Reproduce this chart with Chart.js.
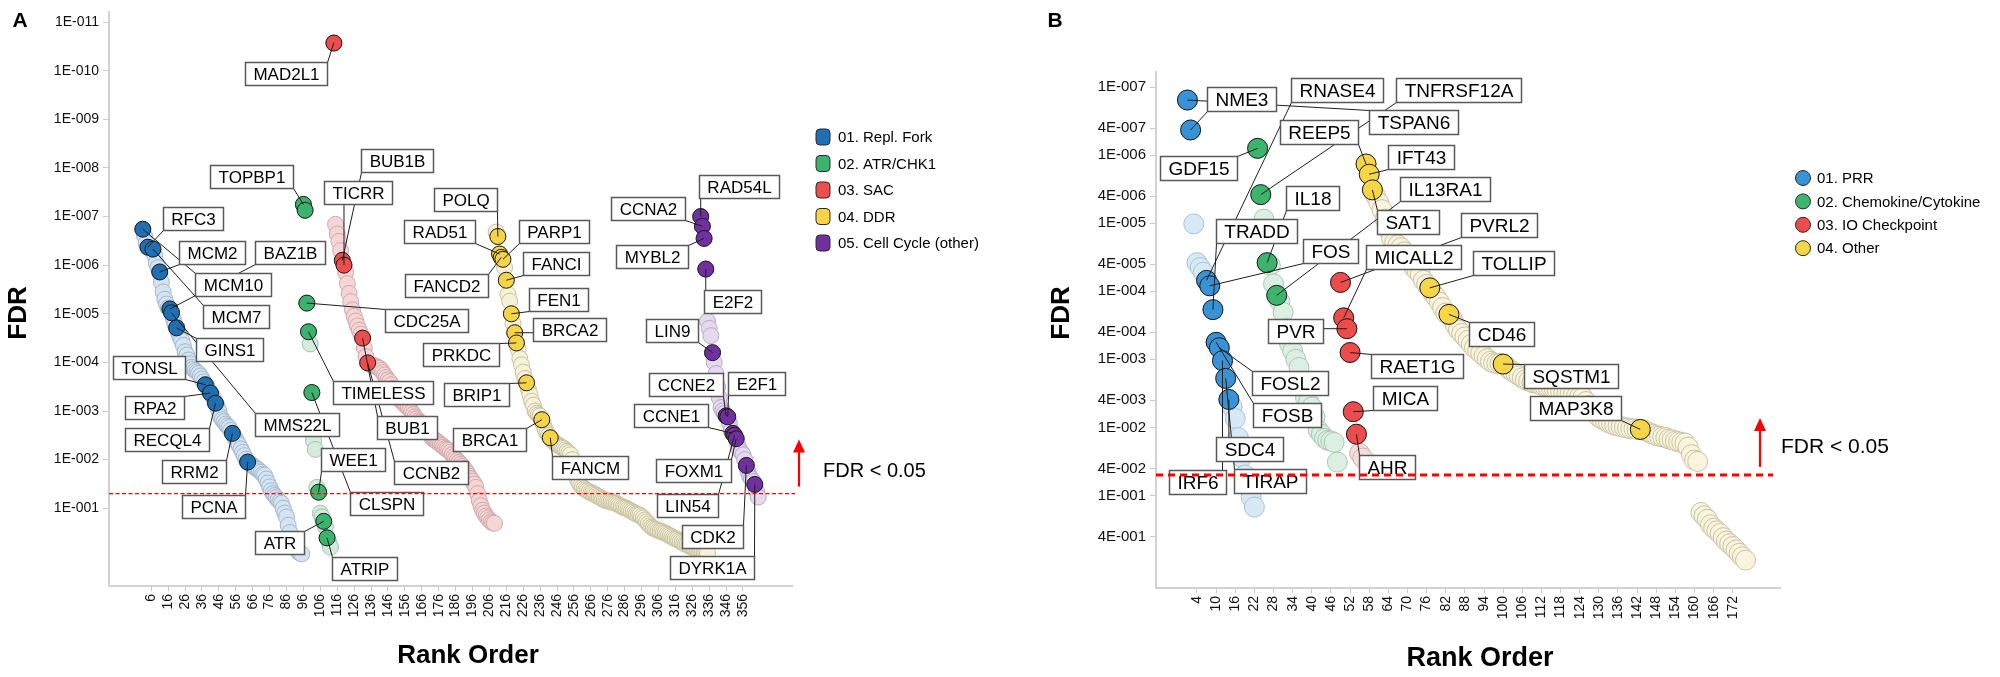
<!DOCTYPE html>
<html>
<head>
<meta charset="utf-8">
<script src="https://cdn.jsdelivr.net/npm/chart.js@4.4.0/dist/chart.umd.min.js"></script>
<style>
  html, body { margin: 0; padding: 0; background: #fff; }
  #wrapA { position: absolute; left: 0; top: 0; width: 1040px; height: 677px; }
  #wrapB { position: absolute; left: 1040px; top: 0; width: 960px; height: 677px; }
</style>
</head>
<body>
<div id="wrapA"><canvas id="chartA" width="1040" height="677"></canvas></div>
<div id="wrapB"><canvas id="chartB" width="960" height="677"></canvas></div>
<script>

// ---------- Panel A : log10(FDR) per rank, one list per gene set ----------
const aReplForkStart = 1;
const aReplForkLogFdr = [
  -6.74, -6.6, -6.45, -6.37, -6.35, -6.34, -6.33, -6.2, -6.04, -5.95,
  -5.86, -5.65, -5.45, -5.3, -5.2, -5.12, -5.1, -5.02, -4.9, -4.78,
  -4.71, -4.62, -4.52, -4.45, -4.35, -4.22, -4.15, -4.05, -3.97, -3.9,
  -3.86, -3.83, -3.8, -3.77, -3.72, -3.66, -3.6, -3.54, -3.5, -3.43,
  -3.37, -3.32, -3.24, -3.16, -3.1, -3.0, -2.88, -2.82, -2.78, -2.73,
  -2.69, -2.66, -2.6, -2.54, -2.47, -2.42, -2.35, -2.29, -2.22, -2.15,
  -2.08, -2.01, -1.95, -1.92, -1.9, -1.88, -1.85, -1.82, -1.8, -1.77,
  -1.74, -1.7, -1.68, -1.6, -1.52, -1.44, -1.36, -1.3, -1.26, -1.22,
  -1.17, -1.13, -1.1, -1.0, -0.9, -0.82, -0.65, -0.5, -0.35, -0.25,
  -0.2, -0.15, -0.1, -0.08, -0.06
];
const aReplForkGenes = { 1: 'MCM10', 4: 'RFC3', 7: 'MCM7', 11: 'MCM2', 17: 'BAZ1B', 18: 'MMS22L', 21: 'GINS1', 38: 'TONSL', 41: 'RPA2', 44: 'RECQL4', 54: 'RRM2', 63: 'PCNA' };

const aAtrStart = 96;
const aAtrLogFdr = [-7.25, -7.13, -5.22, -4.63, -4.38, -3.38, -2.39, -2.21, -1.43, -1.33, -0.9, -0.82, -0.73, -0.62, -0.39, -0.3, -0.2];
const aAtrGenes = { 96: 'TOPBP1', 97: '', 98: 'CDC25A', 99: 'TIMELESS', 101: 'CLSPN', 105: 'WEE1', 108: 'ATR', 110: 'ATRIP' };

const aSacStart = 114;
const aSacLogFdr = [
  -10.57, -6.84, -6.64, -6.49, -6.3, -6.1, -6.0, -5.85, -5.62, -5.42,
  -5.25, -5.08, -4.95, -4.85, -4.75, -4.66, -4.58, -4.5, -4.3, -4.12,
  -3.99, -3.97, -3.95, -3.94, -3.93, -3.92, -3.9, -3.88, -3.84, -3.79,
  -3.74, -3.69, -3.64, -3.6, -3.54, -3.47, -3.4, -3.34, -3.28, -3.24,
  -3.2, -3.17, -3.13, -3.1, -3.07, -3.03, -2.98, -2.93, -2.88, -2.84,
  -2.8, -2.77, -2.74, -2.71, -2.67, -2.61, -2.55, -2.5, -2.45, -2.42,
  -2.4, -2.37, -2.35, -2.32, -2.29, -2.26, -2.23, -2.21, -2.19, -2.15,
  -2.1, -2.06, -2.02, -1.98, -1.94, -1.9, -1.86, -1.82, -1.78, -1.72,
  -1.66, -1.61, -1.56, -1.5, -1.43, -1.3, -1.16, -1.05, -0.96, -0.9,
  -0.84, -0.8, -0.76, -0.72, -0.7, -0.69
];
const aSacGenes = { 114: 'MAD2L1', 119: 'BUB1B', 120: 'TICRR', 131: 'BUB1', 134: 'CCNB2' };

const aDdrStart = 210;
const aDdrLogFdr = [
  -6.68, -6.59, -6.23, -6.16, -6.12, -5.95, -5.69, -5.4, -5.26, -5.0,
  -4.8, -4.61, -4.4, -4.27, -4.08, -3.95, -3.8, -3.67, -3.58, -3.45,
  -3.34, -3.2, -3.12, -3.0, -2.95, -2.92, -2.9, -2.82, -2.72, -2.62,
  -2.55, -2.5, -2.45, -2.4, -2.37, -2.34, -2.31, -2.29, -2.27, -2.25,
  -2.23, -2.2, -2.17, -2.14, -2.1, -2.0, -1.85, -1.68, -1.6, -1.53,
  -1.47, -1.43, -1.4, -1.38, -1.36, -1.34, -1.32, -1.31, -1.29, -1.27,
  -1.25, -1.23, -1.21, -1.19, -1.17, -1.16, -1.15, -1.14, -1.13, -1.12,
  -1.11, -1.1, -1.08, -1.06, -1.04, -1.02, -1.01, -1.0, -0.98, -0.96,
  -0.94, -0.92, -0.9, -0.88, -0.87, -0.86, -0.83, -0.8, -0.76, -0.72,
  -0.68, -0.64, -0.61, -0.59, -0.57, -0.56, -0.54, -0.53, -0.52, -0.5,
  -0.49, -0.47, -0.45, -0.43, -0.41, -0.39, -0.37, -0.36, -0.34, -0.32,
  -0.3, -0.28, -0.26, -0.25, -0.23, -0.21, -0.2, -0.18, -0.16, -0.14,
  -0.13, -0.12, -0.11, -0.1, -0.09, -0.08
];
const aDdrGenes = { 211: 'POLQ', 212: 'RAD51', 213: 'FANCD2', 214: 'PARP1', 216: 'FANCI', 219: 'FEN1', 221: 'BRCA2', 222: 'PRKDC', 228: 'BRIP1', 237: 'BRCA1', 242: 'FANCM' };

const aCellCycleStart = 331;
const aCellCycleLogFdr = [
  -7.0, -6.8, -6.55, -5.92, -4.85, -4.7, -4.55, -4.2, -4.0, -3.77,
  -3.5, -3.27, -3.07, -3.0, -2.95, -2.9, -2.88, -2.75, -2.6, -2.54,
  -2.5, -2.43, -2.3, -2.2, -2.15, -2.1, -2.0, -1.88, -1.75, -1.65,
  -1.6, -1.55, -1.49, -1.35, -1.23
];
const aCellCycleGenes = { 331: 'RAD54L', 332: 'CCNA2', 333: 'MYBL2', 334: 'E2F2', 338: 'LIN9', 346: 'CCNE2', 347: 'E2F1', 350: 'CCNE1', 351: 'LIN54', 352: 'FOXM1', 358: 'CDK2', 363: 'DYRK1A' };

const aSetNames = ['01. Repl. Fork', '02. ATR/CHK1', '03. SAC', '04. DDR', '05. Cell Cycle (other)'];
const aRankTicks = [6, 16, 26, 36, 46, 56, 66, 76, 86, 96, 106, 116, 126, 136, 146, 156, 166, 176, 186, 196, 206, 216, 226, 236, 246, 256, 266, 276, 286, 296, 306, 316, 326, 336, 346, 356];
const aFdrTicks = [1e-11, 1e-10, 1e-9, 1e-8, 1e-7, 1e-6, 1e-5, 1e-4, 1e-3, 1e-2, 1e-1];

// ---------- Panel B ----------
const bPrrStart = 1;
const bPrrLogFdr = [-6.81, -6.37, -4.99, -4.42, -4.35, -4.28, -4.16, -4.08, -3.73, -3.25, -3.17, -2.98, -2.72, -2.41, -2.3, -2.13, -1.85, -1.56, -1.3, -1.12, -0.97, -0.83];
const bPrrGenes = { 1: 'TSPAN6', 2: 'NME3', 7: 'RNASE4', 8: 'FOS', 9: 'TRADD', 10: 'FOSB', 11: 'FOSL2', 12: 'IRF6', 13: 'TIRAP', 14: 'SDC4' };

const bChemoStart = 23;
const bChemoLogFdr = [-6.1, -5.42, -5.06, -4.42, -4.38, -4.11, -3.94, -3.85, -3.69, -3.45, -3.23, -3.12, -3.0, -2.88, -2.6, -2.44, -2.38, -2.3, -2.15, -1.96, -1.9, -1.84, -1.81, -1.8, -1.78, -1.49];
const bChemoGenes = { 23: 'GDF15', 24: 'TNFRSF12A', 26: 'IL18', 29: 'IL13RA1' };

const bIoStart = 49;
const bIoLogFdr = [-4.13, -3.61, -3.45, -3.1, -2.23, -1.9, -1.62, -1.55];
const bIoGenes = { 49: 'PVRL2', 50: 'MICALL2', 51: 'PVR', 52: 'RAET1G', 53: 'MICA', 54: 'AHR' };

const bOtherStart = 57;
const bOtherLogFdr = [
  -5.87, -5.72, -5.49, -5.4, -5.3, -5.2, -5.06, -4.9, -4.78, -4.72,
  -4.68, -4.64, -4.58, -4.5, -4.42, -4.35, -4.3, -4.25, -4.16, -4.1,
  -4.05, -3.97, -3.91, -3.84, -3.76, -3.68, -3.66, -3.6, -3.5, -3.43,
  -3.38, -3.33, -3.28, -3.22, -3.17, -3.13, -3.09, -3.05, -3.01, -2.97,
  -2.95, -2.94, -2.94, -2.93, -2.9, -2.85, -2.82, -2.79, -2.76, -2.73,
  -2.7, -2.68, -2.66, -2.65, -2.64, -2.62, -2.61, -2.6, -2.59, -2.57,
  -2.55, -2.53, -2.51, -2.5, -2.49, -2.48, -2.46, -2.45, -2.44, -2.38,
  -2.32, -2.26, -2.2, -2.15, -2.12, -2.1, -2.07, -2.05, -2.03, -2.02,
  -2.01, -2.0, -1.99, -1.98, -1.98, -1.97, -1.97, -1.96, -1.94, -1.92,
  -1.9, -1.88, -1.87, -1.86, -1.85, -1.83, -1.82, -1.8, -1.79, -1.78,
  -1.77, -1.71, -1.6, -1.52, -1.5, -0.75, -0.7, -0.65, -0.57, -0.52,
  -0.48, -0.44, -0.38, -0.33, -0.29, -0.25, -0.2, -0.15, -0.1, -0.05
];
const bOtherGenes = { 57: 'REEP5', 58: 'IFT43', 59: 'SAT1', 77: 'TOLLIP', 83: 'CD46', 100: 'SQSTM1', 143: 'MAP3K8' };

const bSetNames = ['01. PRR', '02. Chemokine/Cytokine', '03. IO Checkpoint', '04. Other'];
const bRankTicks = [4, 10, 16, 22, 28, 34, 40, 46, 52, 58, 64, 70, 76, 82, 88, 94, 100, 106, 112, 118, 124, 130, 136, 142, 148, 154, 160, 166, 172];
const bFdrTicks = [1e-7, 4e-7, 1e-6, 4e-6, 1e-5, 4e-5, 1e-4, 4e-4, 1e-3, 4e-3, 1e-2, 4e-2, 1e-1, 4e-1];

const fdrCutoff = 0.05;

// ---------- Styles / layout ----------
const FONT = '"Liberation Sans", Arial, Helvetica, sans-serif';
Chart.defaults.font.family = FONT;

const aColors = [
  { dark: '#1f6fb2', pale: '#d4e4f2', edge: '#a3b8ca' },
  { dark: '#3bb36c', pale: '#d5ecdd', edge: '#a3c3ad' },
  { dark: '#ee4d4d', pale: '#f6d5d6', edge: '#cfa8a9' },
  { dark: '#f5d547', pale: '#f6f2da', edge: '#c6c09f' },
  { dark: '#70309f', pale: '#e4d9ef', edge: '#b8a9ca' }
];
const bColors = [
  { dark: '#3893d6', pale: '#d8e9f6', edge: '#a6c1d6' },
  { dark: '#3cb46d', pale: '#dcefe3', edge: '#a8c7b2' },
  { dark: '#ed4c4c', pale: '#f7dcdc', edge: '#d0aeae' },
  { dark: '#f6d548', pale: '#f8f4dd', edge: '#c9c3a4' }
];

// callout box centre relative to its point, in px
const aCalloutOffsets = {
  MCM10: [90, 55], RFC3: [45, -29], MCM7: [83, 67], MCM2: [52, -19], BAZ1B: [120, -56],
  MMS22L: [125, 112], GINS1: [53, 22], TONSL: [-56, -17], RPA2: [-56, 14], RECQL4: [-49, 36],
  RRM2: [-38, 38], PCNA: [-34, 44],
  TOPBP1: [-52, -28], CDC25A: [120, 17], TIMELESS: [75, 61], CLSPN: [75, 111], WEE1: [34, -33],
  ATR: [-44, 21], ATRIP: [37, 31],
  MAD2L1: [-48, 30], BUB1B: [55, -100], TICRR: [14, -73], BUB1: [44, 89], CCNB2: [63, 110],
  POLQ: [-32, -37], RAD51: [-60, -22], FANCD2: [-55, 28], PARP1: [51, -28], FANCI: [50, -17],
  FEN1: [47, -14], BRCA2: [55, -3], PRKDC: [-55, 12], BRIP1: [-50, 12], BRCA1: [-52, 20], FANCM: [40, 30],
  RAD54L: [38, -30], CCNA2: [-54, -18], MYBL2: [-52, 18], E2F2: [27, 32], LIN9: [-41, -22],
  CCNE2: [-40, -31], E2F1: [29, -33], CCNE1: [-62, -18], LIN54: [-47, 70], FOXM1: [-43, 32],
  CDK2: [-34, 71], DYRK1A: [-43, 83]
};
const bCalloutOffsets = {
  TSPAN6: [226, 22], NME3: [51, -31], RNASE4: [130, -190], FOS: [121, -35], TRADD: [44, -79],
  FOSB: [71, 73], FOSL2: [71, 35], IRF6: [-25, 121], TIRAP: [44, 103], SDC4: [21, 50],
  GDF15: [-59, 20], TNFRSF12A: [198, -105], IL18: [45, -65], IL13RA1: [168, -106],
  PVRL2: [158, -57], MICALL2: [70, -61], PVR: [-51, 2], RAET1G: [67, 13], MICA: [52, -14], AHR: [31, 33],
  REEP5: [-47, -32], IFT43: [52, -17], SAT1: [36, 32], TOLLIP: [84, -25], CD46: [53, 20],
  SQSTM1: [68, 12], MAP3K8: [-65, -21]
};

// ---------- Helpers ----------
const toPoints = function (start, logFdr, genes) {
  return logFdr.map((v, i) => ({ x: start + i, y: Math.pow(10, v), gene: genes[start + i] }));
};

const buildDatasets = function (sets, colors, radius) {
  const datasets = [];
  sets.forEach((set, i) => {
    const pts = toPoints(set[0], set[1], set[2]);
    // Pale background points
    datasets.push({
      data: pts, order: 1, clip: false,
      pointRadius: radius, pointHoverRadius: radius, pointBorderWidth: 1,
      pointBackgroundColor: colors[i].pale, pointBorderColor: colors[i].edge
    });
    // Highlighted genes
    datasets.push({
      data: pts.filter(p => p.gene !== undefined), order: 0, clip: false, isDark: true,
      pointRadius: radius, pointHoverRadius: radius, pointBorderWidth: 1,
      pointBackgroundColor: colors[i].dark, pointBorderColor: '#1a1a1a'
    });
  });
  return datasets;
};

const fmtFdr = function (v) {
  const parts = Number(v).toExponential(0).split('e');
  return parts[0] + 'E-' + String(Math.abs(parseInt(parts[1], 10))).padStart(3, '0');
};

const axisX = function (min, max, ticks, height, size) {
  return {
    type: 'linear', min: min, max: max,
    afterBuildTicks: s => { s.ticks = ticks.map(v => ({ value: v })); },
    afterFit: s => { s.height = height; },
    ticks: { autoSkip: false, minRotation: 90, maxRotation: 90, padding: 3, color: '#111', font: { size: size }, callback: v => String(v) },
    grid: { drawOnChartArea: false, drawTicks: true, tickLength: 5, color: '#c8c8c8' },
    border: { display: true, color: '#d2d2d2', width: 2 }
  };
};

const axisY = function (min, max, ticks, width, size) {
  return {
    type: 'logarithmic', reverse: true, min: min, max: max,
    afterBuildTicks: s => { s.ticks = ticks.map(v => ({ value: v })); },
    afterFit: s => { s.width = width; },
    ticks: { autoSkip: false, padding: 4, color: '#111', font: { size: size }, callback: v => fmtFdr(v) },
    grid: { drawOnChartArea: false, drawTicks: true, tickLength: 6, color: '#c8c8c8' },
    border: { display: true, color: '#d2d2d2', width: 2 }
  };
};

// Callouts, cutoff line, legend and titles
const makeOverlay = function (cfg) {
  return {
    id: 'overlay' + cfg.key,
    afterDatasetsDraw(chart) {
      const ctx = chart.ctx;
      const boxes = [];
      chart.data.datasets.forEach((ds, di) => {
        if (!ds.isDark) return;
        const meta = chart.getDatasetMeta(di);
        ds.data.forEach((p, i) => {
          const off = cfg.offsets[p.gene];
          if (!p.gene || !off) return;
          const el = meta.data[i];
          boxes.push({ text: p.gene, px: el.x, py: el.y, cx: el.x + off[0], cy: el.y + off[1] });
        });
      });
      ctx.save();
      ctx.font = cfg.boxFont;
      boxes.forEach(b => {
        b.w = Math.round(ctx.measureText(b.text).width + cfg.boxPadX * 2);
        b.h = cfg.boxH;
        b.l = Math.round(b.cx - b.w / 2) + 0.5;
        b.t = Math.round(b.cy - b.h / 2) + 0.5;
      });

      // Leader lines
      ctx.strokeStyle = '#1e1e1e';
      ctx.lineWidth = 1;
      boxes.forEach(b => {
        const ex = Math.min(Math.max(b.px, b.l), b.l + b.w);
        const ey = Math.min(Math.max(b.py, b.t), b.t + b.h);
        ctx.beginPath();
        ctx.moveTo(b.px, b.py);
        ctx.lineTo(ex, ey);
        ctx.stroke();
      });

      // Boxes
      ctx.textAlign = 'center';
      ctx.textBaseline = 'middle';
      boxes.forEach(b => {
        ctx.fillStyle = '#fff';
        ctx.fillRect(b.l, b.t, b.w, b.h);
        ctx.strokeStyle = '#595959';
        ctx.lineWidth = 1.5;
        ctx.strokeRect(b.l, b.t, b.w, b.h);
        ctx.fillStyle = '#000';
        ctx.fillText(b.text, b.l + b.w / 2, b.t + b.h / 2 + 1);
      });
      ctx.restore();
    },
    afterDraw(chart) {
      const ctx = chart.ctx;
      const area = chart.chartArea;
      const yCut = chart.scales.y.getPixelForValue(fdrCutoff);
      ctx.save();

      // Cutoff line
      ctx.strokeStyle = '#ff0000';
      ctx.lineWidth = cfg.cutWidth;
      ctx.setLineDash(cfg.cutDash);
      ctx.beginPath();
      ctx.moveTo(area.left, yCut);
      ctx.lineTo(area.right - cfg.cutTrim, yCut);
      ctx.stroke();
      ctx.setLineDash([]);

      // Arrow
      const ax = area.right + cfg.arrowDx;
      const top = yCut - cfg.arrowLen;
      ctx.lineWidth = 2.2;
      ctx.beginPath();
      ctx.moveTo(ax, yCut - cfg.arrowGap);
      ctx.lineTo(ax, top + 10);
      ctx.stroke();
      ctx.fillStyle = '#ff0000';
      ctx.beginPath();
      ctx.moveTo(ax, top);
      ctx.lineTo(ax - 6, top + 13);
      ctx.lineTo(ax + 6, top + 13);
      ctx.closePath();
      ctx.fill();

      ctx.fillStyle = '#000';
      ctx.font = cfg.cutFont;
      ctx.textAlign = 'left';
      ctx.textBaseline = 'middle';
      ctx.fillText('FDR < 0.05', area.right + cfg.cutTextDx, yCut + cfg.cutTextDy);

      // Legend
      ctx.font = '15px ' + FONT;
      cfg.names.forEach((name, i) => {
        const y = cfg.legendY + i * cfg.legendStep;
        ctx.fillStyle = cfg.colors[i].dark;
        ctx.strokeStyle = '#2a2a2a';
        ctx.lineWidth = 1;
        ctx.beginPath();
        if (cfg.legendSquare) {
          ctx.roundRect(cfg.legendX - 7, y - 8, 14, 16, 4);
        } else {
          ctx.arc(cfg.legendX, y, 7.5, 0, Math.PI * 2);
        }
        ctx.fill();
        ctx.stroke();
        ctx.fillStyle = '#000';
        ctx.fillText(name, cfg.legendTextX, y + 1);
      });

      // Axis titles and panel letter
      ctx.fillStyle = '#000';
      ctx.textAlign = 'center';
      ctx.textBaseline = 'middle';
      ctx.font = 'bold ' + cfg.titleSize + 'px ' + FONT;
      ctx.fillText('Rank Order', cfg.xTitle[0], cfg.xTitle[1]);
      ctx.save();
      ctx.translate(cfg.yTitle[0], cfg.yTitle[1]);
      ctx.rotate(-Math.PI / 2);
      ctx.font = 'bold 26px ' + FONT;
      ctx.fillText('FDR', 0, 0);
      ctx.restore();
      ctx.font = 'bold 21px ' + FONT;
      ctx.fillText(cfg.letter, cfg.letterPos[0], cfg.letterPos[1]);
      ctx.restore();
    }
  };
};

// ---------- Panel A ----------
new Chart(document.getElementById('chartA'), {
  type: 'scatter',
  data: {
    datasets: buildDatasets([
      [aReplForkStart, aReplForkLogFdr, aReplForkGenes],
      [aAtrStart, aAtrLogFdr, aAtrGenes],
      [aSacStart, aSacLogFdr, aSacGenes],
      [aDdrStart, aDdrLogFdr, aDdrGenes],
      [aCellCycleStart, aCellCycleLogFdr, aCellCycleGenes]
    ], aColors, 8)
  },
  options: {
    responsive: false,
    animation: false,
    devicePixelRatio: 1,
    events: [],
    layout: { padding: { top: 10, right: 248, bottom: 0, left: 0 } },
    plugins: { legend: { display: false }, tooltip: { enabled: false } },
    scales: {
      x: axisX(-19, 385, aRankTicks, 91, 14),
      y: axisY(Math.pow(10, -11.2), Math.pow(10, 0.6), aFdrTicks, 109, 14)
    }
  },
  plugins: [makeOverlay({
    key: 'A', offsets: aCalloutOffsets, boxFont: '17px ' + FONT, boxPadX: 8, boxH: 23,
    cutWidth: 1.2, cutDash: [4, 2.5], cutTrim: -3,
    arrowDx: 7, arrowGap: 7, arrowLen: 54,
    cutFont: '20px ' + FONT, cutTextDx: 31, cutTextDy: -22,
    names: aSetNames, colors: aColors, legendSquare: true,
    legendX: 823, legendTextX: 838, legendY: 137, legendStep: 26.5,
    titleSize: 26, xTitle: [468, 656], yTitle: [19, 313], letter: 'A', letterPos: [20, 21]
  })]
});

// ---------- Panel B ----------
new Chart(document.getElementById('chartB'), {
  type: 'scatter',
  data: {
    datasets: buildDatasets([
      [bPrrStart, bPrrLogFdr, bPrrGenes],
      [bChemoStart, bChemoLogFdr, bChemoGenes],
      [bIoStart, bIoLogFdr, bIoGenes],
      [bOtherStart, bOtherLogFdr, bOtherGenes]
    ], bColors, 10)
  },
  options: {
    responsive: false,
    animation: false,
    devicePixelRatio: 1,
    events: [],
    layout: { padding: { top: 72, right: 220, bottom: 0, left: 0 } },
    plugins: { legend: { display: false }, tooltip: { enabled: false } },
    scales: {
      x: axisX(-8.85, 186.8, bRankTicks, 89, 14),
      y: axisY(Math.pow(10, -7.205), Math.pow(10, 0.36), bFdrTicks, 116, 15)
    }
  },
  plugins: [makeOverlay({
    key: 'B', offsets: bCalloutOffsets, boxFont: '19px ' + FONT, boxPadX: 8, boxH: 24,
    cutWidth: 3, cutDash: [7, 5], cutTrim: 7,
    arrowDx: -20, arrowGap: 8, arrowLen: 57,
    cutFont: '21px ' + FONT, cutTextDx: 1, cutTextDy: -28,
    names: bSetNames, colors: bColors, legendSquare: false,
    legendX: 763, legendTextX: 777, legendY: 178, legendStep: 23.4,
    titleSize: 27, xTitle: [440, 659], yTitle: [22, 313], letter: 'B', letterPos: [15, 21]
  })]
});

</script>
</body>
</html>
